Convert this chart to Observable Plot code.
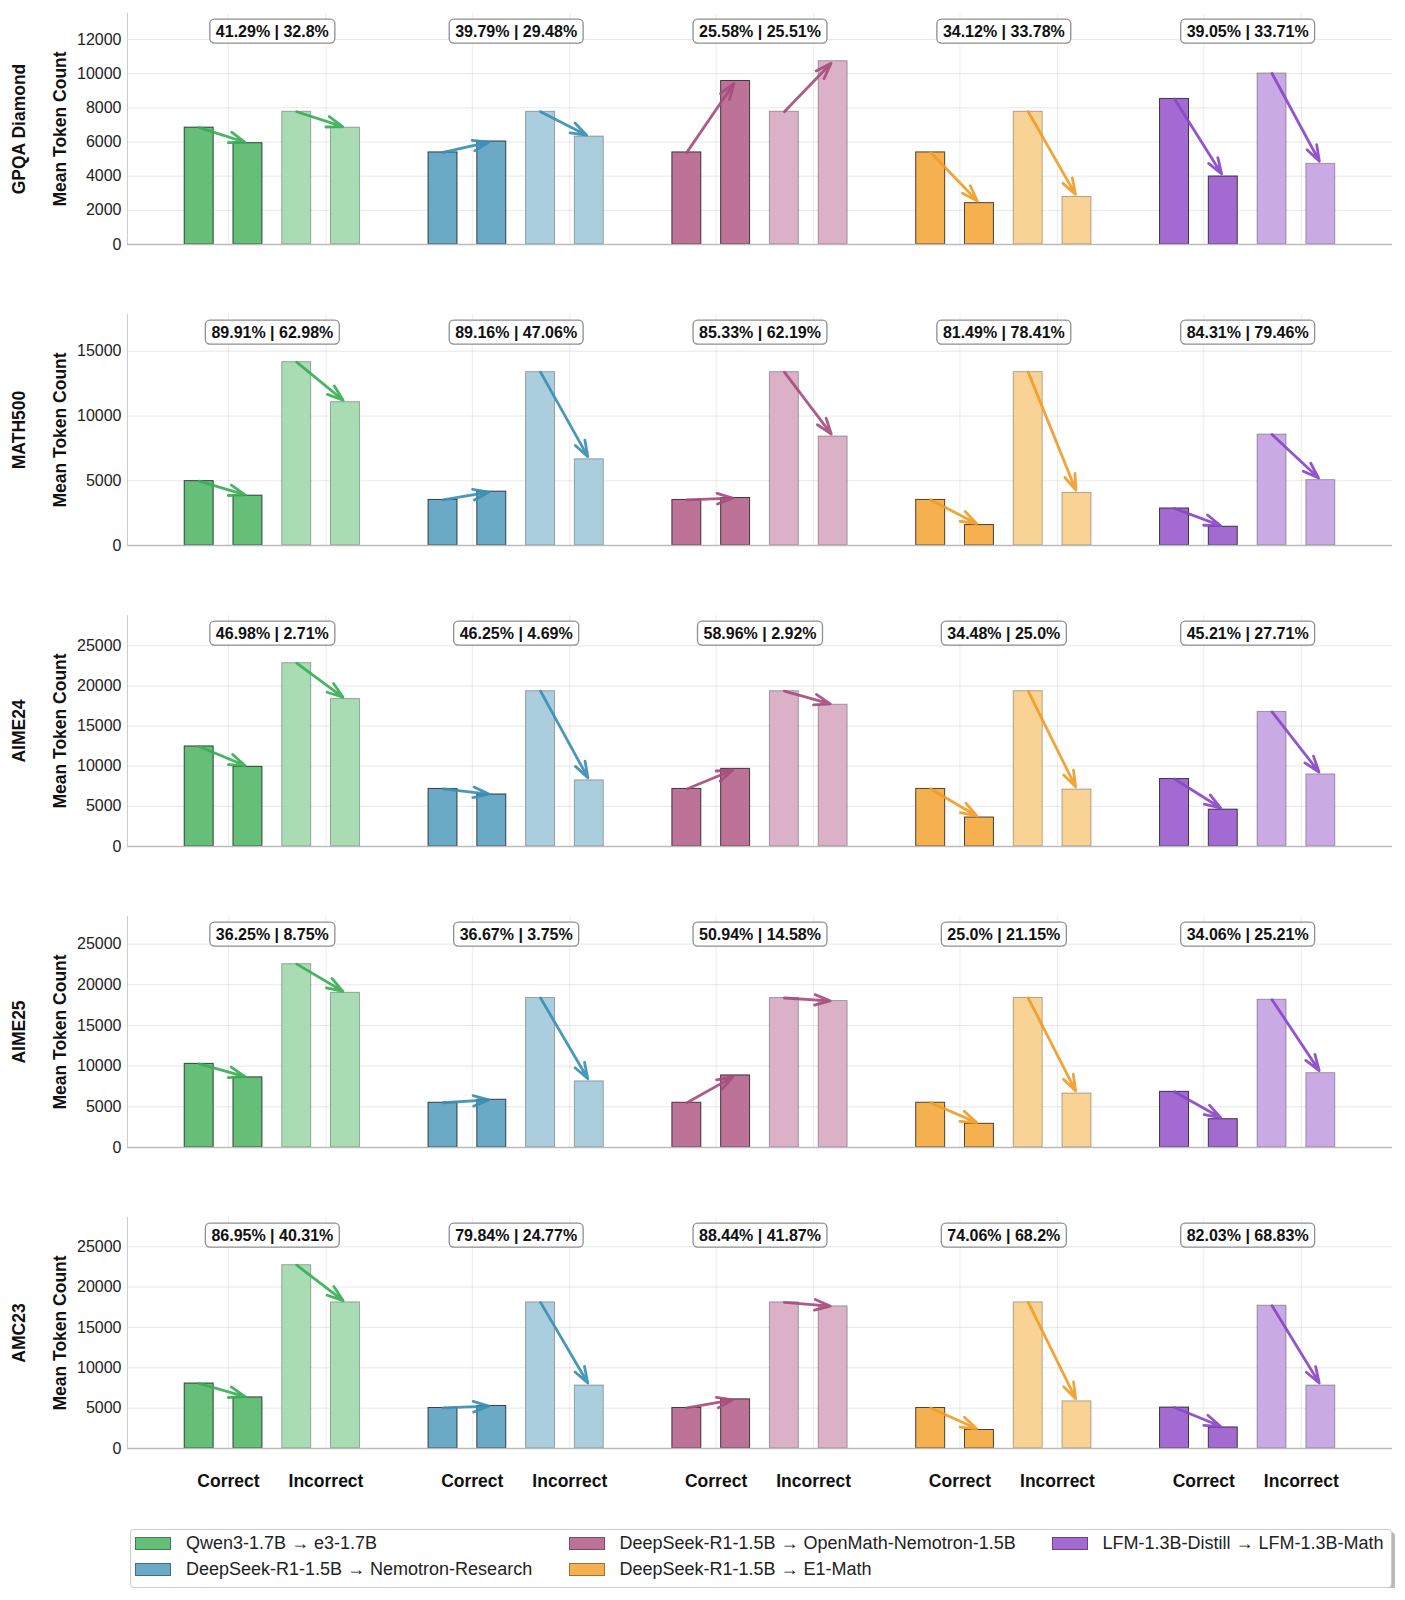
<!DOCTYPE html>
<html><head><meta charset="utf-8">
<script src="https://cdn.jsdelivr.net/npm/d3@7"></script>
<script src="https://cdn.jsdelivr.net/npm/@observablehq/plot@0.6"></script>
<style>
body{margin:0;background:#fff;font-family:"Liberation Sans",Arial,sans-serif;}
#chart{width:1405px;}
#chart svg{display:block;}
.legend{position:relative;margin:24px 0 0 129.5px;width:1262px;height:59px;border:1.5px solid #ccc;border-radius:4px;box-shadow:3px 3px 1px rgba(0,0,0,0.28);background:#fff;box-sizing:border-box;}
.item{position:absolute;height:26px;display:flex;align-items:center;font-size:18px;color:#222;white-space:nowrap;}
.sw{width:36px;height:13px;margin-right:15px;box-sizing:border-box;border:1px solid rgba(0,0,0,0.35);}
</style></head><body>
<div id="chart"></div>
<div class="legend" id="legend"></div>
<script>
const datasets = ["GPQA Diamond", "MATH500", "AIME24", "AIME25", "AMC23"];
const models = [
  "Qwen3-1.7B → e3-1.7B",
  "DeepSeek-R1-1.5B → Nemotron-Research",
  "DeepSeek-R1-1.5B → OpenMath-Nemotron-1.5B",
  "DeepSeek-R1-1.5B → E1-Math",
  "LFM-1.3B-Distill → LFM-1.3B-Math"
];
const correctColors   = ["#66bf78", "#6aaac6", "#bd7398", "#f5b04f", "#a36bd1"];
const incorrectColors = ["#a9dcb3", "#aacedd", "#dab1c7", "#f9d396", "#c9aae4"];
const arrowColors     = ["#3aae56", "#3b8fb3", "#a64e7e", "#f09c26", "#8a47c7"];
const tickLabels = ["Correct", "Incorrect"];

const yTicks = [
  [0, 2000, 4000, 6000, 8000, 10000, 12000],
  [0, 5000, 10000, 15000],
  [0, 5000, 10000, 15000, 20000, 25000],
  [0, 5000, 10000, 15000, 20000, 25000],
  [0, 5000, 10000, 15000, 20000, 25000]
];

// accuracy labels: base | after
const accGPQA    = ["41.29% | 32.8%", "39.79% | 29.48%", "25.58% | 25.51%", "34.12% | 33.78%", "39.05% | 33.71%"];
const accMATH500 = ["89.91% | 62.98%", "89.16% | 47.06%", "85.33% | 62.19%", "81.49% | 78.41%", "84.31% | 79.46%"];
const accAIME24  = ["46.98% | 2.71%", "46.25% | 4.69%", "58.96% | 2.92%", "34.48% | 25.0%", "45.21% | 27.71%"];
const accAIME25  = ["36.25% | 8.75%", "36.67% | 3.75%", "50.94% | 14.58%", "25.0% | 21.15%", "34.06% | 25.21%"];
const accAMC23   = ["86.95% | 40.31%", "79.84% | 24.77%", "88.44% | 41.87%", "74.06% | 68.2%", "82.03% | 68.83%"];

// mean token counts: correct base, correct after, incorrect base, incorrect after
const gpqaCorrectBase    = [6840, 5390, 5390, 5390, 8520];
const gpqaCorrectAfter   = [5930, 6030, 9570, 2420, 3980];
const gpqaIncorrectBase  = [7770, 7770, 7770, 7770, 10010];
const gpqaIncorrectAfter = [6840, 6320, 10730, 2780, 4720];

const mathCorrectBase    = [4970, 3520, 3520, 3520, 2860];
const mathCorrectAfter   = [3850, 4160, 3670, 1580, 1450];
const mathIncorrectBase  = [14160, 13390, 13390, 13390, 8570];
const mathIncorrectAfter = [11070, 6660, 8420, 4060, 5050];

const aime24CorrectBase    = [12460, 7170, 7170, 7170, 8400];
const aime24CorrectAfter   = [9920, 6480, 9670, 3610, 4590];
const aime24IncorrectBase  = [22830, 19340, 19340, 19340, 16760];
const aime24IncorrectAfter = [18360, 8240, 17660, 7090, 8980];

const aime25CorrectBase    = [10280, 5500, 5500, 5500, 6840];
const aime25CorrectAfter   = [8620, 5870, 8860, 2910, 3480];
const aime25IncorrectBase  = [22530, 18370, 18370, 18370, 18160];
const aime25IncorrectAfter = [19010, 8130, 18000, 6630, 9140];

const amcCorrectBase    = [8050, 5020, 5020, 5020, 5070];
const amcCorrectAfter   = [6330, 5270, 6090, 2290, 2610];
const amcIncorrectBase  = [22710, 18100, 18100, 18100, 17690];
const amcIncorrectAfter = [18100, 7800, 17610, 5840, 7800];

const accs = [accGPQA, accMATH500, accAIME24, accAIME25, accAMC23];
const series = [
  [gpqaCorrectBase, gpqaCorrectAfter, gpqaIncorrectBase, gpqaIncorrectAfter],
  [mathCorrectBase, mathCorrectAfter, mathIncorrectBase, mathIncorrectAfter],
  [aime24CorrectBase, aime24CorrectAfter, aime24IncorrectBase, aime24IncorrectAfter],
  [aime25CorrectBase, aime25CorrectAfter, aime25IncorrectBase, aime25IncorrectAfter],
  [amcCorrectBase, amcCorrectAfter, amcIncorrectBase, amcIncorrectAfter]
];

const chart = document.getElementById("chart");
const xDomain = [-1.47, 24.47];
const half = 0.297;
const tickPos = models.flatMap((m, mi) => [mi * 5 + 0.6, mi * 5 + 2.6]);
const tickText = models.flatMap(() => tickLabels);

datasets.forEach((name, di) => {
  const bars = [];
  const arrows = [];
  models.forEach((mod, mi) => {
    const vals = series[di].map(arr => arr[mi]);
    vals.forEach((v, k) => bars.push({
      slot: mi * 5 + k, value: v, k,
      fill: k < 2 ? correctColors[mi] : incorrectColors[mi]
    }));
    arrows.push({x1: mi * 5, y1: vals[0], x2: mi * 5 + 1, y2: vals[1], c: arrowColors[mi]});
    arrows.push({x1: mi * 5 + 2, y1: vals[2], x2: mi * 5 + 3, y2: vals[3], c: arrowColors[mi]});
  });
  const ymax = d3.max(series[di].flat()) * 1.26;

  const marks = [
    Plot.ruleX(tickPos, {x: d => d, stroke: "#000", strokeOpacity: 0.08}),
    Plot.rect(bars.filter(b => b.k < 2), {
      x1: d => d.slot - half, x2: d => d.slot + half, y1: () => 0, y2: "value",
      fill: "fill", stroke: "#000", strokeOpacity: 0.7, strokeWidth: 1
    }),
    Plot.rect(bars.filter(b => b.k >= 2), {
      x1: d => d.slot - half, x2: d => d.slot + half, y1: () => 0, y2: "value",
      fill: "fill", stroke: "#000", strokeOpacity: 0.3, strokeWidth: 1
    }),
    Plot.ruleY([0], {stroke: "#bbb", strokeWidth: 1.5}),
    Plot.ruleX([xDomain[0]], {x: d => d, stroke: "#ccc", strokeWidth: 1}),
    Plot.arrow(arrows, {
      x1: "x1", y1: "y1", x2: "x2", y2: "y2", stroke: "c",
      strokeWidth: 2.8, headLength: 9, headAngle: 38, insetEnd: 3, strokeOpacity: 0.92
    }),
    Plot.text(models, {
      x: (d, i) => i * 5 + 1.5, text: (d, i) => accs[di][i],
      frameAnchor: "top", lineAnchor: "middle", dy: 18, fontSize: 16, fontWeight: "bold", fill: "#111"
    }),
    Plot.text([name], {
      text: d => d, frameAnchor: "left", textAnchor: "middle", lineAnchor: "middle",
      dx: -108, rotate: -90, fontSize: 17.5, fontWeight: "bold", fill: "#111"
    }),
    Plot.text(["Mean Token Count"], {
      text: d => d, frameAnchor: "left", textAnchor: "middle", lineAnchor: "middle",
      dx: -67, rotate: -90, fontSize: 17.5, fontWeight: "bold", fill: "#111"
    })
  ];
  if (di === datasets.length - 1) {
    marks.push(Plot.text(tickPos, {
      x: d => d, text: (d, i) => tickText[i], frameAnchor: "bottom", lineAnchor: "middle", dy: 33,
      fontSize: 17.5, fontWeight: "bold", fill: "#111"
    }));
  }

  const svg = Plot.plot({
    width: 1405, height: 301,
    marginLeft: 127, marginRight: 13, marginTop: 13, marginBottom: 57,
    x: {domain: xDomain, axis: null},
    y: {domain: [0, ymax], ticks: yTicks[di], tickFormat: "d", tickSize: 0, tickPadding: 6, grid: true, label: null},
    color: {type: "identity"},
    style: {fontFamily: "Liberation Sans, Arial, sans-serif", fontSize: "16px", color: "#222", background: "#fff"},
    marks
  });
  chart.appendChild(svg);

  // boxed accuracy labels
  svg.querySelectorAll("text").forEach(t => {
    if (!t.textContent.includes("|")) return;
    const b = t.getBBox();
    const r = document.createElementNS("http://www.w3.org/2000/svg", "rect");
    r.setAttribute("x", b.x - 6);
    r.setAttribute("y", b.y - 3.5);
    r.setAttribute("width", b.width + 12);
    r.setAttribute("height", b.height + 7);
    r.setAttribute("rx", 4.5);
    r.setAttribute("fill", "#fff");
    r.setAttribute("stroke", "#8f8f8f");
    r.setAttribute("stroke-width", 1.3);
    const tr = t.getAttribute("transform");
    if (tr) r.setAttribute("transform", tr);
    t.parentNode.insertBefore(r, t);
  });
});

// legend
const legend = document.getElementById("legend");
const colLeft = [4.5, 438, 921];
const rowTop = [0.5, 26.5];
models.forEach((m, i) => {
  const it = document.createElement("div");
  it.className = "item";
  it.style.left = colLeft[Math.floor(i / 2)] + "px";
  it.style.top = rowTop[i % 2] + "px";
  const sw = document.createElement("span");
  sw.className = "sw";
  sw.style.background = correctColors[i];
  const tx = document.createElement("span");
  tx.textContent = m;
  it.appendChild(sw);
  it.appendChild(tx);
  legend.appendChild(it);
});
</script>
</body></html>
